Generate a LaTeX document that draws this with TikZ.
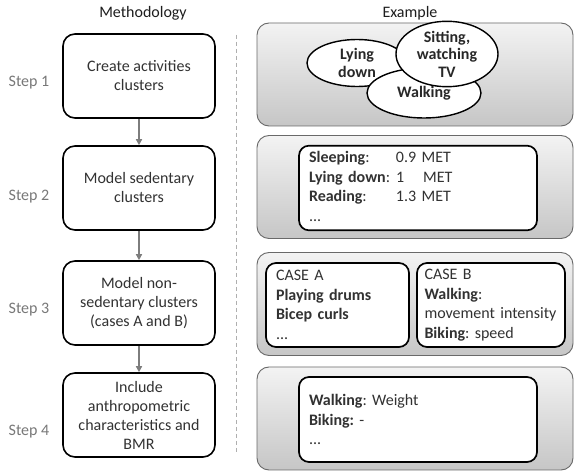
\documentclass[tikz,border=0pt]{standalone}
\usepackage{fontspec}
\setmainfont{Carlito}
\usetikzlibrary{shapes.geometric,arrows.meta}
\frenchspacing

\begin{document}
\begin{tikzpicture}[x=1pt,y=1pt,
  stepbox/.style={draw=black,line width=1.6pt,rounded corners=12pt,fill=white,
    minimum width=152pt,minimum height=84pt,align=center,inner sep=2pt,
    text=textColor,font=\fontsize{16}{19}\selectfont},
  steplabel/.style={text=stepColor,font=\fontsize{16}{19}\selectfont},
  headlabel/.style={text=headColor,font=\fontsize{16}{19}\selectfont},
  examplebox/.style={draw=frameColor,line width=0.9pt,rounded corners=12pt,
    top color=shadeTop,bottom color=shadeBottom,minimum width=316pt,minimum height=103pt},
  cluster/.style={ellipse,draw=black,line width=1.4pt,fill=white,inner sep=0pt,
    align=center,text=clusterColor,font=\fontsize{16}{17.5}\selectfont\bfseries},
  innerbox/.style={draw=black,line width=1.7pt,rounded corners=10pt,fill=white,
    minimum height=84pt,inner xsep=10pt,align=left,text=textColor,
    font=\fontsize{16}{19.5}\selectfont},
  flow/.style={draw=arrowColor,line width=1.5pt,-{Triangle[length=6pt,width=6pt]}},
  sepline/.style={draw=sepColor,line width=1pt,dash pattern=on 4pt off 3pt}]
\definecolor{fillColor}{RGB}{255,255,255}
\definecolor{textColor}{RGB}{50,50,50}
\definecolor{clusterColor}{RGB}{40,40,40}
\definecolor{headColor}{RGB}{30,30,30}
\definecolor{stepColor}{RGB}{120,120,120}
\definecolor{arrowColor}{RGB}{125,125,125}
\definecolor{sepColor}{RGB}{175,175,175}
\definecolor{frameColor}{RGB}{105,105,105}
\definecolor{shadeTop}{RGB}{243,243,243}
\definecolor{shadeBottom}{RGB}{198,198,198}
\path[use as bounding box,fill=fillColor] (0,0) rectangle (574,472);

\begin{scope}
\node[headlabel] (method) at (143,459) {Methodology};
\node[headlabel] (example) at (410,459) {Example};

\node[steplabel] (step1) at (29,389) {Step 1};
\node[steplabel] (step2) at (29,275) {Step 2};
\node[steplabel] (step3) at (29,162) {Step 3};
\node[steplabel] (step4) at (29,40) {Step 4};
\end{scope}

\begin{scope}
\node[stepbox] (m1) at (139,396) {Create activities\\clusters};
\node[stepbox] (m2) at (139,284) {Model sedentary\\clusters};
\node[stepbox] (m3) at (139,169) {Model non-\\sedentary clusters\\(cases A and B)};
\node[stepbox] (m4) at (139,57) {Include\\anthropometric\\characteristics and\\BMR};

\draw[flow] (m1) -- (m2);
\draw[flow] (m2) -- (m3);
\draw[flow] (m3) -- (m4);
\end{scope}

\draw[sepline] (236,437) -- (236,19);

\begin{scope}
\node[examplebox] (e1) at (415,397.5) {};
\node[examplebox] (e2) at (415,285) {};
\node[examplebox] (e3) at (415,168) {};
\node[examplebox] (e4) at (415,53.5) {};
\end{scope}

\begin{scope}
\node[cluster,minimum width=100pt,minimum height=47pt] (lying) at (357,409) {Lying\\down};
\node[cluster,minimum width=114pt,minimum height=50pt] (walking) at (424,379) {Walking};
\node[cluster,minimum width=102pt,minimum height=54pt] (sitting) at (447,418) {Sitting,\\watching\\TV};
\end{scope}

\begin{scope}
\node[innerbox,text width=218pt] (sedentary) at (418,284) {%
\begin{tabular}{@{}p{87pt}@{}l@{}}
\textbf{Sleeping}: & 0.9 MET\\
\textbf{Lying down}: & 1\hspace{19pt}MET\\
\textbf{Reading}: & 1.3 MET\\
...&
\end{tabular}};

\node[innerbox,text width=123pt] (caseA) at (337.5,167) {CASE A\\\textbf{Playing drums}\\\textbf{Bicep curls}\\...};
\node[innerbox,text width=133pt,inner xsep=7.5pt] (caseB) at (491,167) {CASE B\\\textbf{Walking}:\\\mbox{movement intensity}\\\textbf{Biking}: speed};

\node[innerbox,text width=218pt,minimum height=85pt] (anthro) at (418,52.5) {\textbf{Walking}: Weight\\\textbf{Biking:} -\\...};
\end{scope}
\end{tikzpicture}
\end{document}
